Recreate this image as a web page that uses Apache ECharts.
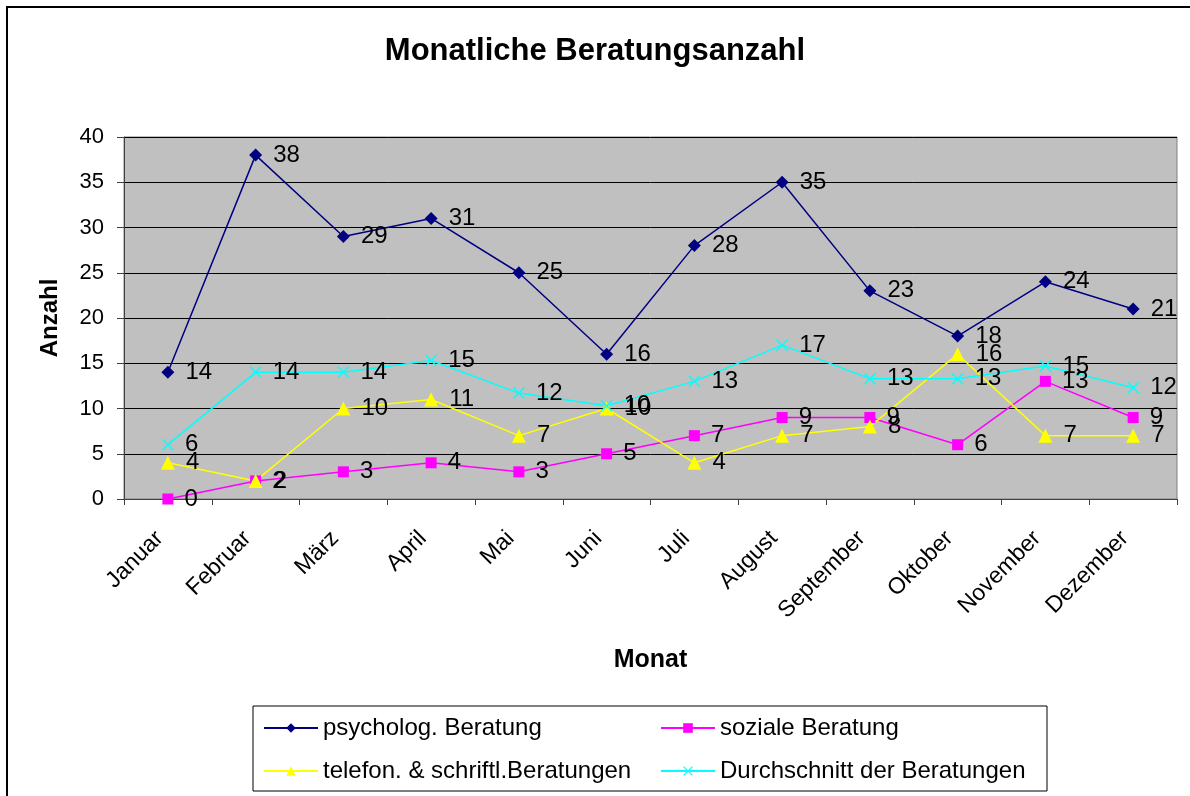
<!DOCTYPE html>
<html>
<head>
<meta charset="utf-8">
<script src="https://cdn.jsdelivr.net/npm/echarts@6/dist/echarts.min.js"></script>
<style>
  html, body { margin: 0; padding: 0; background: #fff; }
  #chart { width: 1190px; height: 796px; }
</style>
</head>
<body>
<div id="chart"></div>
<script>
// Werte
const months = ['Januar', 'Februar', 'März', 'April', 'Mai', 'Juni', 'Juli', 'August', 'September', 'Oktober', 'November', 'Dezember'];
const psycholog = [14, 38, 29, 31, 25, 16, 28, 35, 23, 18, 24, 21];
const sozial = [0, 2, 3, 4, 3, 5, 7, 9, 9, 6, 13, 9];
const telefon = [4, 2, 10, 11, 7, 10, 4, 7, 8, 16, 7, 7];
const durchschnitt = [6, 14, 14, 15.3, 11.7, 10.3, 13, 17, 13.3, 13.3, 14.7, 12.3];
const yTicks = { min: 0, max: 40, interval: 5 };

const font = 'Arial, "Liberation Sans", sans-serif';
const crossPath = 'path://M0,1L1,0L6,5L11,0L12,1L7,6L12,11L11,12L6,7L1,12L0,11L5,6Z';

function lineSeries(name, data, color, symbol, size) {
  return {
    name: name,
    type: 'line',
    data: data,
    symbol: symbol,
    symbolSize: size,
    lineStyle: { color: color, width: 1.5 },
    itemStyle: { color: color },
    label: {
      show: true,
      position: 'right',
      distance: 11,
      color: '#000',
      fontSize: 24,
      fontFamily: font,
      formatter: p => Math.round(p.value)
    },
    animation: false
  };
}

const legendText = { fontSize: 24, color: '#000', fontFamily: font };

const chart = echarts.init(document.getElementById('chart'));
chart.setOption({
  backgroundColor: '#fff',
  title: {
    text: 'Monatliche Beratungsanzahl',
    left: 'center',
    top: 31,
    textStyle: { fontSize: 31, fontWeight: 'bold', color: '#000', fontFamily: font }
  },
  grid: {
    left: 124, top: 137, right: 13, bottom: 297,
    show: true,
    backgroundColor: '#C0C0C0',
    borderColor: '#808080',
    borderWidth: 1
  },
  legend: [
    {
      orient: 'vertical',
      left: 258, top: 711,
      itemWidth: 54, itemHeight: 12, itemGap: 19,
      textStyle: legendText,
      data: ['psycholog. Beratung', 'telefon. & schriftl.Beratungen']
    },
    {
      orient: 'vertical',
      left: 655, top: 711,
      itemWidth: 54, itemHeight: 12, itemGap: 19,
      textStyle: legendText,
      data: ['soziale Beratung', 'Durchschnitt der Beratungen']
    }
  ],
  xAxis: {
    type: 'category',
    data: months,
    boundaryGap: true,
    name: 'Monat',
    nameLocation: 'middle',
    nameGap: 149,
    nameTextStyle: { fontSize: 25, fontWeight: 'bold', color: '#000', fontFamily: font },
    axisLine: { lineStyle: { color: '#404040', width: 1 } },
    axisTick: { show: true, interval: 0, length: 6, lineStyle: { color: '#404040' } },
    axisLabel: {
      interval: 0, rotate: 45, fontSize: 23, color: '#000', fontFamily: font,
      margin: 44, verticalAlign: 'bottom'
    }
  },
  yAxis: {
    type: 'value',
    min: yTicks.min, max: yTicks.max, interval: yTicks.interval,
    name: 'Anzahl',
    nameLocation: 'middle',
    nameRotate: 90,
    nameGap: 62,
    nameTextStyle: { fontSize: 24, fontWeight: 'bold', color: '#000', fontFamily: font },
    axisLine: { show: true, lineStyle: { color: '#404040', width: 1 } },
    axisTick: { show: true, length: 7, lineStyle: { color: '#404040' } },
    axisLabel: { fontSize: 22, color: '#000', fontFamily: font, margin: 20 },
    splitLine: { show: true, lineStyle: { color: '#000', width: 1 } }
  },
  graphic: [
    {
      type: 'rect',
      shape: { x: 7, y: 7, width: 1200, height: 800 },
      style: { fill: 'none', stroke: '#000', lineWidth: 2 },
      silent: true
    },
    {
      type: 'rect',
      shape: { x: 253, y: 706, width: 794, height: 85 },
      style: { fill: 'none', stroke: '#000', lineWidth: 1 },
      silent: true
    }
  ],
  series: [
    lineSeries('psycholog. Beratung', psycholog, '#000080', 'diamond', 13),
    lineSeries('soziale Beratung', sozial, '#FF00FF', 'rect', 11),
    lineSeries('telefon. & schriftl.Beratungen', telefon, '#FFFF00', 'triangle', 14),
    lineSeries('Durchschnitt der Beratungen', durchschnitt, '#00FFFF', crossPath, 12)
  ]
});
</script>
</body>
</html>
